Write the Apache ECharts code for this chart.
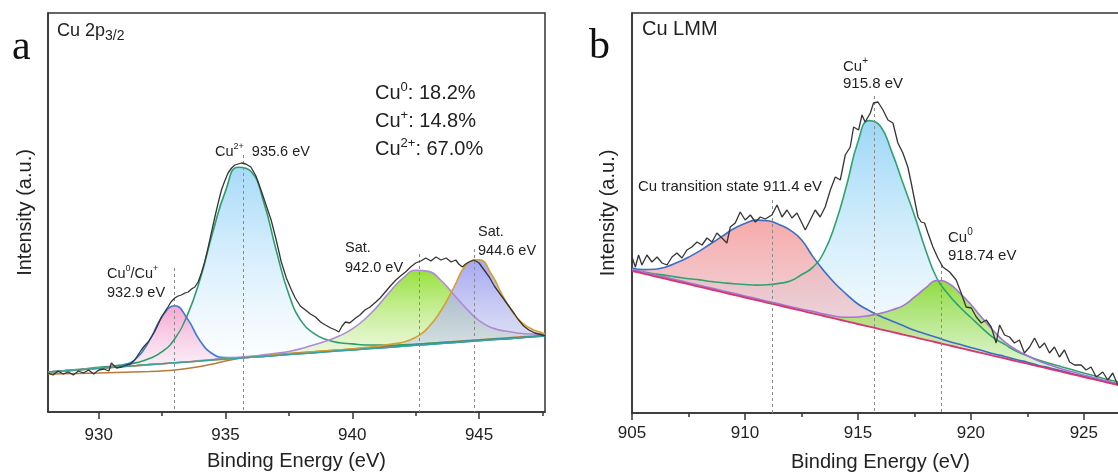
<!DOCTYPE html>
<html>
<head>
<meta charset="utf-8">
<title>Cu 2p3/2 and Cu LMM XPS fits</title>
<script src="https://cdn.jsdelivr.net/npm/echarts/dist/echarts.min.js"></script>
<style>
    html, body {margin: 0; padding: 0; background: #fff;}
    #chart {width: 1118px; height: 473px;}
</style>
</head>
<body>
<div id="chart"></div>
<script>
"use strict";
/** panel a : Cu 2p3/2 (intensity in arbitrary units) **/
var energyA = [928.0, 928.5, 929.0, 929.5, 930.0, 930.5, 931.0, 931.5, 932.0, 932.5, 933.0, 933.5, 934.0, 934.5, 935.0, 935.5, 936.0, 936.5, 937.0, 937.5,
    938.0, 938.5, 939.0, 939.5, 940.0, 940.5, 941.0, 941.5, 942.0, 942.5, 943.0, 943.5, 944.0, 944.5, 945.0, 945.5, 946.0, 946.5, 947.0, 947.5, 947.6];
var backgroundA = [40.0, 40.9, 41.8, 42.8, 43.7, 44.6, 45.5, 46.4, 47.4, 48.3, 49.2, 50.1, 51.0, 52.0, 52.9, 53.8, 54.7, 55.6, 56.6, 57.5,
    58.4, 59.3, 60.2, 61.2, 62.1, 63.0, 63.9, 64.8, 65.8, 66.7, 67.6, 68.5, 69.4, 70.4, 71.3, 72.2, 73.1, 74.0, 75.0, 75.9, 76.1];
// peak heights above the background
var cu0A = [0, 0, 0, 0, 0, 0.5, 1.5, 7.6, 24, 47, 57, 43, 20, 6, 1.5, 0.5, 0, 0, 0, 0,
    0, 0, 0, 0, 0, 0, 0, 0, 0, 0, 0, 0, 0, 0, 0, 0, 0, 0, 0, 0, 0];
var cu2A = [0, 0, 0.5, 0.5, 1, 1, 2, 3, 6, 12, 24, 47, 82, 128, 168, 191, 186, 155, 105, 60,
    32, 19, 12, 8, 6, 4, 3, 2, 1.5, 1, 1, 1, 0.5, 0.5, 0.5, 0.5, 0, 0, 0, 0, 0];
var satLowA = [0, 0, 0, 0, 0, 0, 0, 0, 0, 0, 0, 0, 0.5, 0.5, 1, 1, 1, 1.5, 2, 3,
    5, 8, 11, 15, 21, 30, 42, 56, 68, 75, 73, 63, 48, 33, 20, 12, 8, 5, 3, 2, 2];
var satHighA = [0, 0, 0, 0, 0, 0, 0, 0, 0, 0, 0, 0, 0, 0, 0, 0, 0, 0, 0.5, 0.5,
    0.5, 1, 1, 1, 1, 1.5, 2, 3, 4, 8, 17, 33, 55, 77, 81, 65, 40, 20, 9, 3, 2];
var shirleyEnergyA = [928, 930, 932, 933, 934, 934.5, 935, 935.5, 936, 938, 940, 942, 944, 946, 947.6];
var shirleyA = [38, 39, 40.5, 42, 45.5, 48, 51, 53.5, 55.5, 59.5, 63, 66.8, 70.4, 74, 76.6];
var rawEnergyA = [928.0, 928.2, 928.4, 928.6, 928.8, 929.0, 929.2, 929.4, 929.6, 929.8,
    930.0, 930.2, 930.4, 930.5, 930.7, 930.9, 931.1, 931.25, 931.42, 931.55,
    931.68, 931.8, 931.95, 932.1, 932.2, 932.35, 932.47, 932.6, 932.73, 932.85,
    933.0, 933.13, 933.26, 933.4, 933.53, 933.66, 933.79, 933.92, 934.05, 934.18,
    934.32, 934.45, 934.58, 934.71, 934.84, 934.97, 935.1, 935.24, 935.37, 935.5,
    935.63, 935.8, 936.0, 936.2, 936.4, 936.6, 936.8, 937.0, 937.2, 937.4,
    937.6, 937.75, 937.95, 938.15, 938.35, 938.55, 938.75, 938.94, 939.15, 939.34,
    939.47, 939.6, 939.73, 939.9, 940.13, 940.3, 940.5, 940.7, 940.93, 941.1,
    941.3, 941.5, 941.72, 941.9, 942.1, 942.3, 942.5, 942.7, 942.9, 943.1,
    943.3, 943.5, 943.7, 943.9, 944.08, 944.2, 944.34, 944.47, 944.6, 944.8,
    945.0, 945.2, 945.4, 945.6, 945.8, 946.0, 946.2, 946.4, 946.56, 946.76,
    946.96, 947.2, 947.5, 947.6];
var rawCountsA = [39, 37, 41, 38, 40, 37, 41, 39, 42, 38,
    42, 43, 41, 49, 44, 45, 47, 48, 52, 57,
    62, 66, 70, 76, 80, 88, 95, 100, 105, 110,
    114, 116, 117, 119, 120, 123, 125, 130, 139, 150,
    165, 180, 195, 209, 222, 231, 239, 244, 247, 248,
    249, 248, 245, 236, 222, 207, 192, 172, 150, 134,
    122, 114, 106, 102, 98, 95, 90, 87, 84, 82,
    80, 86, 90, 89, 94, 97, 102, 105, 110, 114,
    120, 126, 132, 136, 140, 145, 149, 151, 154, 151,
    155, 152, 154, 150, 152, 148, 145, 148, 150, 152,
    149, 142, 135, 126, 119, 112, 105, 98, 92, 86,
    82, 79, 77, 76.5];
// dashed guide lines: [energy, top]
var guidesA = [[932.97, 144], [935.7, 257], [942.65, 158], [944.82, 163]];
var majorTicksA = [930, 935, 940, 945];
var minorTicksA = [932.5, 937.5, 942.5, 947.5];

/** panel b : Cu LMM **/
var energyB = [905.0, 905.5, 906.0, 906.5, 907.0, 907.5, 908.0, 908.5, 909.0, 909.5, 910.0, 910.5, 911.0, 911.5, 912.0,
    912.5, 913.0, 913.5, 914.0, 914.5, 915.0, 915.5, 916.0, 916.5, 917.0, 917.5, 918.0, 918.5, 919.0, 919.5,
    920.0, 920.5, 921.0, 921.5, 922.0, 922.5, 923.0, 923.5, 924.0, 924.5, 925.0, 925.5, 926.0, 926.5, 927.0];
var backgroundB = [142.0, 139.4, 136.7, 134.1, 131.4, 128.8, 126.1, 123.5, 120.8, 118.2, 115.5, 112.9, 110.2, 107.6, 104.9,
    102.3, 99.6, 97.0, 94.3, 91.7, 89.0, 86.4, 83.7, 81.1, 78.4, 75.8, 73.1, 70.5, 67.8, 65.2,
    62.5, 59.9, 57.2, 54.6, 51.9, 49.3, 46.6, 44.0, 41.3, 38.7, 36.0, 33.4, 30.7, 28.1, 25.4];
var transB = [3, 4, 7, 12, 19, 27, 36, 46, 56, 66, 74, 80, 82, 81, 78,
    71, 57, 45, 35, 27, 20, 16, 13, 11, 9, 7, 6, 5, 4, 3.5,
    3, 2.5, 2, 2, 1.5, 1.5, 1, 1, 1, 0.5, 0.5, 0.5, 0.5, 0.5, 0.5];
var cuPlusB = [1, 1.5, 2.5, 3.5, 4.5, 5.5, 7, 8, 9.5, 11, 13, 15, 18, 22, 27,
    36, 46, 64, 95, 136, 182, 206, 203, 180, 151, 122, 90, 64, 51, 41,
    33, 25, 18, 14, 10, 8, 6.5, 5.5, 5, 4.5, 4, 3.5, 3, 3, 3];
var cu0B = [1.5, 1.5, 1.5, 1.5, 1.5, 1.5, 1.5, 1.5, 1.5, 1.5, 1.5, 1.5, 1.5, 1.5, 1.5,
    1.5, 2, 2, 2.5, 4, 7, 11, 16, 22, 29, 40, 52, 62, 62, 55,
    46, 35, 25, 16.5, 11.5, 8, 5.5, 4, 3, 2.5, 2, 1.5, 1.5, 1, 1];
var rawEnergyB = [905.0, 905.15, 905.29, 905.44, 905.66, 905.88, 906.11, 906.33, 906.55, 906.77,
    906.99, 907.21, 907.43, 907.65, 907.88, 908.10, 908.32, 908.54, 908.76, 908.98,
    909.20, 909.35, 909.57, 909.79, 910.01, 910.24, 910.46, 910.68, 910.90, 911.19,
    911.42, 911.64, 911.86, 912.08, 912.30, 912.52, 912.67, 912.89, 913.11, 913.33,
    913.55, 913.78, 914.00, 914.22, 914.44, 914.66, 914.81, 915.03, 915.18, 915.32,
    915.55, 915.69, 915.89, 916.11, 916.33, 916.55, 916.77, 916.99, 917.21, 917.36,
    917.51, 917.66, 917.80, 917.95, 918.10, 918.32, 918.54, 918.76, 919.06, 919.35,
    919.57, 919.79, 920.02, 920.24, 920.46, 920.68, 920.90, 921.12, 921.27, 921.49,
    921.71, 921.93, 922.15, 922.37, 922.60, 922.82, 923.04, 923.26, 923.48, 923.70,
    923.92, 924.14, 924.37, 924.59, 924.88, 925.10, 925.32, 925.55, 925.84, 926.06,
    926.28, 926.50, 926.75, 927.0];
var rawCountsB = [156, 146, 158, 148, 158, 151, 156, 150, 148, 156,
    160, 155, 163, 166, 171, 168, 175, 171, 180, 175,
    170, 186, 190, 201, 193, 198, 191, 196, 194, 198,
    208, 196, 203, 195, 200, 190, 183, 193, 203, 196,
    206, 223, 236, 233, 258, 266, 286, 283, 298, 291,
    300, 310, 311, 303, 293, 290, 270, 260, 246, 230,
    213, 196, 191, 190, 180, 166, 155, 146, 141, 133,
    120, 106, 105, 96, 90, 93, 86, 70, 88, 78,
    76, 70, 73, 60, 66, 75, 65, 70, 60, 66,
    56, 63, 51, 48, 48, 43, 46, 36, 41, 33,
    40, 28, 32, 27];
var guidesB = [[911.2, 213], [915.73, 317], [918.7, 148]];
var majorTicksB = [905, 910, 915, 920, 925];
var minorTicksB = [907.5, 912.5, 917.5, 922.5];

var sans = '"Liberation Sans", Arial, sans-serif';
var ink = '#222';

function pairs(xs, ys) {
    return xs.map(function (x, i) {
        return [x, ys[i]];
    });
}

// intensity first so the stack sums the intensity dimension (stacked by index)
function flipped(xs, ys) {
    return xs.map(function (x, i) {
        return [ys[i], x];
    });
}

function gradient(top, bottom) {
    return new echarts.graphic.LinearGradient(0, 0, 0, 1, [
        {offset: 0, color: top},
        {offset: 1, color: bottom}
    ]);
}

// one fitted component: invisible background + height stacked on it
function component(panel, xs, base, height, lineColor, fillTop, fillBottom, key) {
    return [{
        type: 'line', xAxisIndex: panel * 2, yAxisIndex: panel, stack: key,
        data: flipped(xs, base), encode: {x: 1, y: 0}, smooth: 0.5, symbol: 'none', silent: true,
        lineStyle: {opacity: 0}, emphasis: {disabled: true}
    }, {
        type: 'line', xAxisIndex: panel * 2, yAxisIndex: panel, stack: key,
        data: flipped(xs, height), encode: {x: 1, y: 0}, smooth: 0.5, symbol: 'none', silent: true,
        lineStyle: {color: lineColor, width: 1.6},
        areaStyle: {color: gradient(fillTop, fillBottom), opacity: 1},
        emphasis: {disabled: true}
    }];
}

function plainLine(panel, xs, ys, color, width, z) {
    return {
        type: 'line', xAxisIndex: panel * 2, yAxisIndex: panel,
        data: pairs(xs, ys), smooth: 0.3, symbol: 'none', silent: true, z: z || 2,
        lineStyle: {color: color, width: width}, emphasis: {disabled: true}
    };
}

function guides(list) {
    return {
        silent: true, symbol: ['none', 'none'], label: {show: false}, animation: false,
        lineStyle: {color: '#8a8a8a', type: [3, 3], width: 1},
        data: list.map(function (g) {
            return [{coord: [g[0], g[1]]}, {coord: [g[0], 0]}];
        })
    };
}

function rawLine(panel, xs, ys, list) {
    return {
        type: 'line', xAxisIndex: panel * 2, yAxisIndex: panel,
        data: pairs(xs, ys), symbol: 'none', silent: true, z: 5,
        lineStyle: {color: '#353535', width: 1.3}, emphasis: {disabled: true},
        markLine: guides(list)
    };
}

function mainAxis(grid, min, max, ticks, margin) {
    return {
        type: 'value', gridIndex: grid, min: min, max: max, position: 'bottom',
        axisLine: {lineStyle: {color: '#333', width: 1.5}},
        axisTick: {customValues: ticks, length: 7, lineStyle: {color: '#333', width: 1.5}},
        axisLabel: {customValues: ticks, fontSize: 17, fontFamily: sans, color: ink, margin: margin},
        splitLine: {show: false},
        name: 'Binding Energy (eV)', nameLocation: 'middle', nameGap: 39,
        nameTextStyle: {fontSize: 20, fontFamily: sans, color: ink}
    };
}

function minorAxis(grid, min, max, ticks) {
    return {
        type: 'value', gridIndex: grid, min: min, max: max, position: 'bottom',
        axisLine: {show: false},
        axisTick: {customValues: ticks, length: 4, lineStyle: {color: '#333', width: 1.5}},
        axisLabel: {show: false, customValues: ticks},
        splitLine: {show: false}
    };
}

function yAxis(grid, max, gap) {
    return {
        type: 'value', gridIndex: grid, min: 0, max: max,
        axisLine: {show: true, lineStyle: {color: '#333', width: 1.5}},
        axisTick: {show: false}, axisLabel: {show: false}, splitLine: {show: false},
        name: 'Intensity (a.u.)', nameLocation: 'middle', nameGap: gap,
        nameTextStyle: {fontSize: 20, fontFamily: sans, color: ink}
    };
}

function note(x, y, text, size) {
    var small = Math.round(size * 0.64);
    return {
        type: 'text', x: x, y: y, silent: true,
        style: {
            text: text, fontSize: size, fontFamily: sans, fill: ink, verticalAlign: 'middle', align: 'left',
            rich: {
                n: {fontSize: size, fontFamily: sans, fill: ink, lineHeight: size + 6},
                sup: {fontSize: small, fontFamily: sans, fill: ink, lineHeight: small, verticalAlign: 'top'},
                sub: {fontSize: Math.round(size * 0.78), fontFamily: sans, fill: ink, lineHeight: Math.round(size * 0.78), verticalAlign: 'bottom'}
            }
        }
    };
}

function letter(x, y, text) {
    return {
        type: 'text', x: x, y: y, silent: true,
        style: {text: text, font: '42px "Liberation Serif", "Times New Roman", serif', fill: '#111', verticalAlign: 'middle'}
    };
}

var series = [].concat(
    plainLine(0, shirleyEnergyA, shirleyA, '#b87a35', 1.5, 3),
    component(0, energyA, backgroundA, cu2A, '#2f9c6c', 'rgba(158,214,248,0.9)', 'rgba(255,255,255,0.5)', 'a1'),
    component(0, energyA, backgroundA, cu0A, '#3b7bd6', 'rgba(245,150,200,0.85)', 'rgba(250,230,242,0.5)', 'a2'),
    component(0, energyA, backgroundA, satLowA, '#b08ad8', 'rgba(140,222,40,0.9)', 'rgba(238,248,228,0.5)', 'a3'),
    component(0, energyA, backgroundA, satHighA, '#d6a12a', 'rgba(150,152,240,0.85)', 'rgba(215,222,235,0.5)', 'a4'),
    plainLine(0, energyA, backgroundA, '#36a3a0', 1.5, 3),
    rawLine(0, rawEnergyA, rawCountsA, guidesA),

    component(1, energyB, backgroundB, cuPlusB, '#2fa36f', 'rgba(145,210,246,0.9)', 'rgba(255,255,255,0.4)', 'b1'),
    component(1, energyB, backgroundB, transB, '#3a6ec8', 'rgba(246,155,155,0.85)', 'rgba(225,215,230,0.55)', 'b2'),
    component(1, energyB, backgroundB, cu0B, '#a673d6', 'rgba(128,214,30,0.95)', 'rgba(225,245,215,0.6)', 'b3'),
    plainLine(1, energyB, backgroundB, '#d8366e', 1.8, 3),
    rawLine(1, rawEnergyB, rawCountsB, guidesB)
);

var chart = echarts.init(document.getElementById('chart'), null, {renderer: 'canvas'});
chart.setOption({
    animation: false,
    backgroundColor: '#fff',
    grid: [
        {left: 48, top: 13, width: 497, height: 399, show: true, borderColor: '#333', borderWidth: 1.5, containLabel: false, outerBoundsMode: 'none'},
        {left: 632, top: 13, width: 497, height: 400, show: true, borderColor: '#333', borderWidth: 1.5, containLabel: false, outerBoundsMode: 'none'}
    ],
    xAxis: [
        mainAxis(0, 928, 947.6, majorTicksA, 15),
        minorAxis(0, 928, 947.6, minorTicksA),
        mainAxis(1, 905, 927, majorTicksB, 12),
        minorAxis(1, 905, 927, minorTicksB)
    ],
    yAxis: [yAxis(0, 399, 13), yAxis(1, 400, 14)],
    series: series,
    graphic: [
        letter(12, 48, 'a'),
        letter(589, 47, 'b'),
        note(57, 31, '{n|Cu 2p}{sub|3/2}', 18),
        note(642, 29, '{n|Cu LMM}', 20),
        note(375, 93.5, '{n|Cu}{sup|0}{n|: 18.2%}', 20),
        note(375, 121.5, '{n|Cu}{sup|+}{n|: 14.8%}', 20),
        note(375, 149.5, '{n|Cu}{sup|2+}{n|: 67.0%}', 20),
        note(215, 152, '{n|Cu}{sup|2+}{n|  935.6 eV}', 14.5),
        note(107, 274, '{n|Cu}{sup|0}{n|/Cu}{sup|+}', 14.5),
        note(107, 292.5, '{n|932.9 eV}', 14.5),
        note(345, 248, '{n|Sat.}', 14.5),
        note(345, 267.5, '{n|942.0 eV}', 14.5),
        note(478, 232, '{n|Sat.}', 14.5),
        note(478, 251, '{n|944.6 eV}', 14.5),
        note(638, 186.5, '{n|Cu transition state 911.4 eV}', 15),
        note(843, 66.5, '{n|Cu}{sup|+}', 15),
        note(843, 84, '{n|915.8 eV}', 15),
        note(948, 237.5, '{n|Cu}{sup|0}', 15),
        note(948, 255.5, '{n|918.74 eV}', 15)
    ]
});
</script>
</body>
</html>
